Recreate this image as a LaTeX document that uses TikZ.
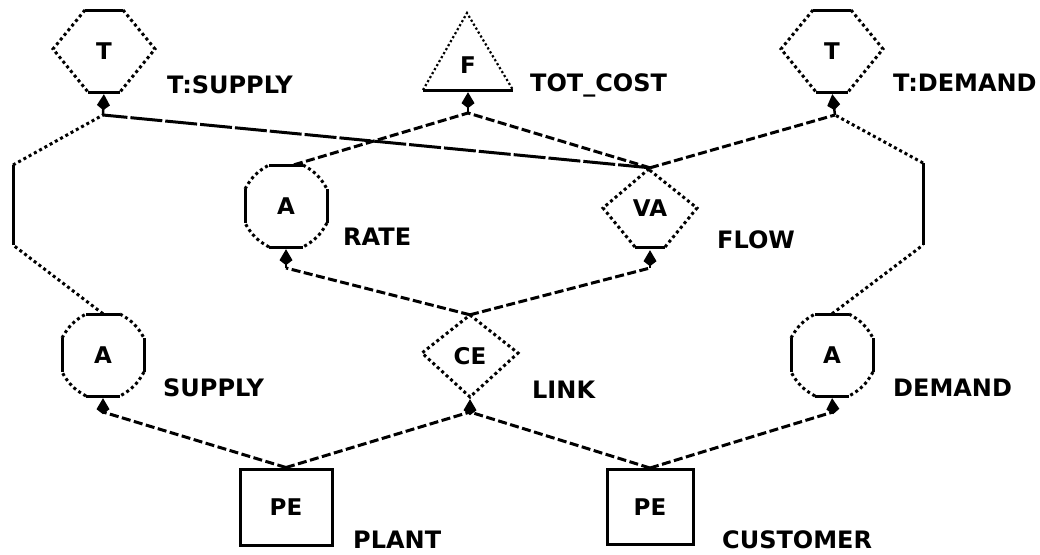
\documentclass[tikz,border=0pt]{standalone}
\usepackage{fontspec}
\newfontfamily\pixfont{DejaVu Sans}
\usetikzlibrary{arrows.meta}
\newcommand\mkhex[4]{%
  \node[shp, minimum width=102pt, minimum height=82pt] (#1) at (#2,#3) {#4};
  \begin{scope}[shift={(#2,#3)}]
    \draw[solidln] (-19,-41) -- (19,-41) (-16,41) -- (16,41);
    \draw[dotln] (19,-41) -- (51,-2) -- (16,41) (-19,-41) -- (-51,-2) -- (-16,41);
  \end{scope}}
\newcommand\mkoct[4]{%
  \node[shp, minimum width=82pt, minimum height=82pt] (#1) at (#2,#3) {#4};
  \begin{scope}[shift={(#2,#3)}]
    \draw[solidln] (-17,-41) -- (17,-41) (-17,41) -- (17,41) (-41,-17) -- (-41,17) (41,-17) -- (41,17);
    \draw[dotln] (17,-41) to[bend left=16] (41,-17) (41,17) to[bend left=16] (17,41)
                 (-17,41) to[bend left=16] (-41,17) (-41,-17) to[bend left=16] (-17,-41);
  \end{scope}}
\begin{document}
\begin{tikzpicture}[x=1pt,y=-1pt,
  solidln/.style={line width=3pt},
  dotln/.style={line width=3pt, dash pattern=on 3pt off 3pt},
  thindot/.style={line width=2.2pt, dash pattern=on 2.2pt off 2.4pt},
  dashln/.style={line width=3pt, dash pattern=on 9pt off 3.5pt},
  longln/.style={line width=3pt, dash pattern=on 32pt off 3pt},
  tip/.style={-{Kite[length=16pt,width=13pt,inset=5pt]}, line width=2.5pt, shorten >=2pt},
  shp/.style={inner sep=0pt, font=\pixfont\bfseries\fontsize{23}{23}\selectfont},
  lbl/.style={anchor=base west, inner sep=0pt, font=\pixfont\bfseries\fontsize{24}{24}\selectfont}]
\useasboundingbox (0,0) rectangle (1040,554);

% shapes
\mkhex{tsup}{104}{51}{T}
\mkhex{tdem}{832}{51}{T}
\mkoct{rate}{286}{206}{A}
\mkoct{supply}{103}{355}{A}
\mkoct{demand}{832}{355}{A}

% triangle F
\node[shp, minimum width=90pt, minimum height=77pt] (tot) at (468,51.5) {};
\node[shp] (totT) at (468,65) {F};
\draw[solidln] (423,90) -- (513,90);
\draw[thindot] (423,90) -- (467,13) -- (513,90);

% pentagon VA
\node[shp, minimum width=94pt, minimum height=80pt] (flow) at (650,208) {VA};
\begin{scope}[shift={(650,208)}]
  \draw[solidln] (-15,39) -- (15,39);
  \draw[dotln] (15,39) -- (47,0) -- (-3,-40) (-15,39) -- (-47,0) -- (0,-40);
\end{scope}

% diamond CE
\node[shp, minimum width=96pt, minimum height=82pt] (link) at (470,356) {CE};
\begin{scope}[shift={(470,356)}]
  \draw[dotln] (0,-41) -- (48,-3) -- (0,41) -- (-48,-3) -- cycle;
\end{scope}

% boxes
\node[shp, draw, solidln, minimum width=92pt, minimum height=76pt] (plant) at (286,507) {PE};
\node[shp, draw, solidln, minimum width=86pt, minimum height=75pt] (customer) at (650,507) {PE};

% labels
\node[lbl] (l1) at (167,93) {T:SUPPLY};
\node[lbl] (l2) at (530,91) {TOT\_COST};
\node[lbl] (l3) at (893,91) {T:DEMAND};
\node[lbl] (l4) at (343,245) {RATE};
\node[lbl] (l5) at (717,248) {FLOW};
\node[lbl] (l6) at (163,396) {SUPPLY};
\node[lbl] (l7) at (532,398) {LINK};
\node[lbl] (l8) at (893,396) {DEMAND};
\node[lbl] (l9) at (353,548) {PLANT};
\node[lbl] (l10) at (722,548) {CUSTOMER};

% ports
\coordinate (tsupP) at (103,115);
\coordinate (totP) at (468,113);
\coordinate (tdemP) at (835,115);
\coordinate (rateP) at (286,268);
\coordinate (flowP) at (650,268);
\coordinate (supP) at (103,412);
\coordinate (linkP) at (470,412);
\coordinate (demP) at (833,412);
\coordinate (bl1) at (13,165);
\coordinate (bl2) at (13,245);
\coordinate (br1) at (923,163);
\coordinate (br2) at (923,245);

% arrows into nodes
\draw[tip] (tsupP) -- (tsup.south);
\draw[tip] (totP) -- (tot.south);
\draw[tip] (tdemP) -- (tdem.south);
\draw[tip] (rateP) -- (rate.south);
\draw[tip] (flowP) -- (flow.south);
\draw[tip] (supP) -- (supply.south);
\draw[tip] (linkP) -- (link.south);
\draw[tip] (demP) -- (demand.south);

% connectors
\draw[dashln] (plant.north) -- (supP);
\draw[dashln] (plant.north) -- (linkP);
\draw[dashln] (customer.north) -- (linkP);
\draw[dashln] (customer.north) -- (demP);
\draw[dotln] (supply.north) -- (bl2);
\draw[solidln] (bl2) -- (bl1);
\draw[dotln] (bl1) -- (tsupP);
\draw[dotln] (demand.north) -- (br2);
\draw[solidln] (br2) -- (br1);
\draw[dotln] (br1) -- (tdemP);
\draw[dashln] (link.north) -- (rateP);
\draw[dashln] (link.north) -- (flowP);
\draw[dashln] ([xshift=8pt]rate.north) -- (totP);
\draw[dashln] (flow.north) -- (totP);
\draw[dashln] (flow.north) -- (tdemP);
\draw[longln] (flow.north) -- (tsupP);
\end{tikzpicture}
\end{document}
